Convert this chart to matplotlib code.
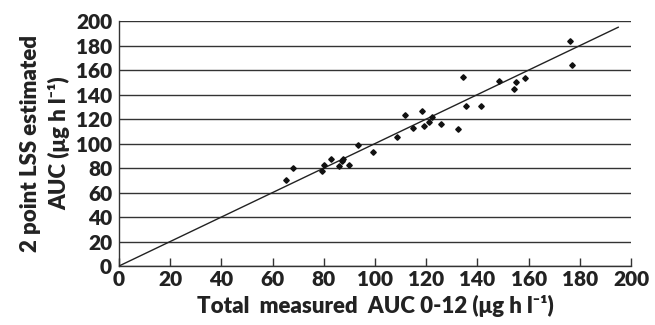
import matplotlib
matplotlib.use("Agg")
import matplotlib.pyplot as plt

plt.rcParams['font.family'] = ['Lato', 'DejaVu Sans']

# measured total AUC vs 2 point LSS estimate
measured = [65.2, 67.8, 79.2, 80.1, 82.7, 86.1, 87.0, 87.4, 90.0, 93.5,
            99.1, 108.6, 111.6, 114.7, 118.5, 119.1, 121.1, 122.1, 125.9, 132.4,
            134.2, 135.4, 141.3, 148.6, 154.2, 155.0, 158.5, 176.0, 177.0]
estimated = [69.9, 80.2, 77.2, 82.1, 87.8, 81.3, 85.6, 87.0, 82.1, 99.2,
             93.5, 105.2, 123.0, 112.5, 126.8, 114.1, 117.6, 121.7, 115.7, 112.2,
             154.5, 130.3, 130.3, 151.0, 144.2, 149.9, 153.4, 183.7, 164.2]
line_x = [0, 195]
ticks = list(range(0, 201, 20))

W = 'heavy'
fig = plt.figure(figsize=(6.55, 3.25), dpi=100)
ax = fig.add_axes([0.1817, 0.1815, 0.7817, 0.7535])

ax.plot(line_x, line_x, color='#222222', lw=1.0, zorder=3)
ax.plot(measured, estimated, 'D', color='#111111', ms=2.8, mec='#111111', zorder=4)

ax.set_xlim(0, 200)
ax.set_ylim(0, 200)
ax.set_xticks(ticks)
ax.set_yticks(ticks)
ax.yaxis.grid(True, color='#333333', lw=1.0)
ax.set_axisbelow(True)

for s in ['top', 'right']:
    ax.spines[s].set_visible(False)
for s in ['left', 'bottom']:
    ax.spines[s].set_color('#333333')
    ax.spines[s].set_linewidth(1.0)

ax.tick_params(axis='x', direction='in', length=6, width=1.0, color='#333333',
               labelsize=15, pad=3)
ax.tick_params(axis='y', length=0, labelsize=15, pad=5)
for lab in ax.get_xticklabels() + ax.get_yticklabels():
    lab.set_fontweight(W)
    lab.set_color('#222222')

ax.set_xlabel('Total  measured  AUC 0-12 (\u03bcg h l\u207b\u00b9)', fontsize=16,
              fontweight=W, color='#222222', labelpad=4)
ax.set_ylabel('2 point LSS estimated\nAUC (\u03bcg h l\u207b\u00b9)', fontsize=16,
              fontweight=W, color='#222222', labelpad=4, linespacing=1.4)

fig.savefig('out.png', dpi=100)
